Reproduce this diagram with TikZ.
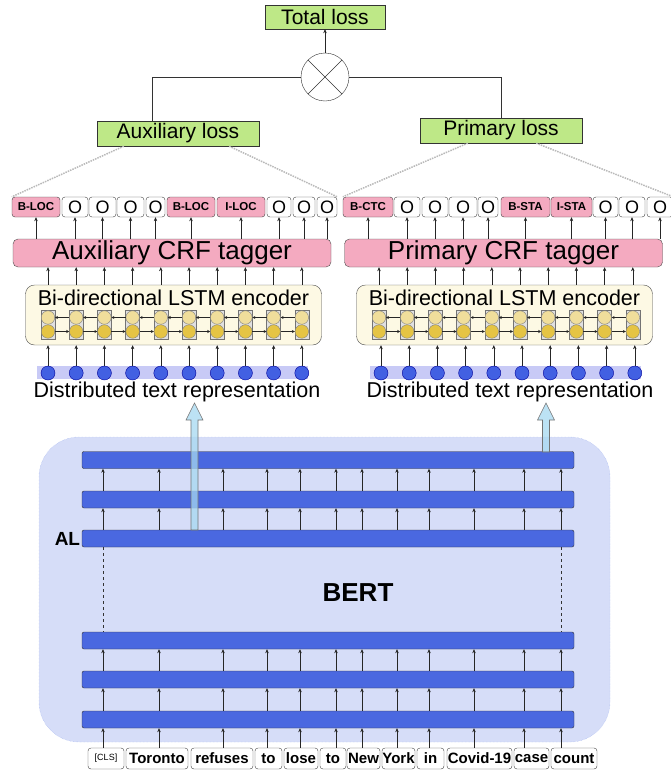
\documentclass[tikz,border=0pt]{standalone}
\usepackage{fontspec}
\setmainfont{Liberation Sans}
\usetikzlibrary{arrows.meta,positioning,calc}
\definecolor{losscol}{RGB}{190,232,135}
\definecolor{crfcol}{RGB}{244,170,192}
\definecolor{lstmcol}{RGB}{253,249,228}
\definecolor{celltop}{RGB}{240,222,155}
\definecolor{cellbot}{RGB}{229,196,68}
\definecolor{dotcol}{RGB}{66,96,226}
\definecolor{bandcol}{RGB}{200,202,246}
\definecolor{bertcol}{RGB}{214,221,248}
\definecolor{bertline}{RGB}{160,178,238}
\definecolor{barcol}{RGB}{74,104,224}
\definecolor{bigcol}{RGB}{166,216,240}
\newcommand{\fs}[1]{\fontsize{#1}{#1}\selectfont}
\newcommand{\ent}[1]{{\bfseries\fs{11.5}#1}}
\newcommand{\clsfont}{\mdseries\fs{9}}
\newcommand{\upblock}[3]{\filldraw[bigarrow] (#1-3.5,#2) -- (#1-3.5,#3+17) -- (#1-8.5,#3+17) -- (#1,#3) -- (#1+8.5,#3+17) -- (#1+3.5,#3+17) -- (#1+3.5,#2) -- cycle;}

\begin{document}
\begin{tikzpicture}[
    x=1pt, y=-1pt,
    >={Stealth[length=4pt,width=3.5pt]},
    ar/.style={->, black!85, line width=0.5pt},
    lossbox/.style={draw=black!80, fill=losscol, inner sep=0pt, minimum height=25pt, font=\fs{21}},
    tag/.style={draw=black!75, rounded corners=3pt, inner sep=0pt, minimum height=20pt, font=\fs{18}},
    crf/.style={draw=black!70, fill=crfcol, rounded corners=5pt, inner sep=0pt,
                minimum width=318pt, minimum height=28pt, font=\fs{26}},
    lstm/.style={draw=black!70, fill=lstmcol, rounded corners=9pt, minimum width=296pt, minimum height=60pt},
    cell/.style={draw=black!55, fill=black!12, inner sep=0pt, minimum width=14pt, minimum height=29pt},
    hid/.style={circle, draw=black!50, inner sep=0pt, minimum size=13.5pt},
    emb/.style={circle, draw=blue!60!black, fill=dotcol, inner sep=0pt, minimum size=14pt},
    band/.style={fill=bandcol, inner sep=0pt, minimum width=271pt, minimum height=13pt},
    layer/.style={draw=black!80, fill=barcol, rounded corners=2pt, inner sep=0pt,
                  minimum width=492pt, minimum height=17pt},
    tok/.style={draw=black!75, rounded corners=3pt, inner sep=0pt, minimum height=21pt, font=\bfseries\fs{15}},
    cone/.style={gray!55, line width=1.5pt, densely dotted},
    bigarrow/.style={draw=black!55, fill=bigcol, fill opacity=0.75, line width=0.6pt}
  ]
  \useasboundingbox (0,0) rectangle (670,771);

  \node[lossbox, minimum width=120pt, minimum height=24pt] (total) at (325,17) {Total loss};
  \node[circle, draw=black!80, fill=white, minimum size=48pt, inner sep=0pt] (comb) at (325,77) {};
  \draw[black!80] (comb.north west) -- (comb.south east) (comb.north east) -- (comb.south west);
  \node[lossbox, minimum width=162pt] (auxloss) at (178,133.5) {Auxiliary loss};
  \node[lossbox, minimum width=162pt] (primloss) at (501,130.5) {Primary loss};

  \draw[ar] (comb.north) -- (total.south);
  \draw[black!80] (comb.west) -| ([xshift=-26pt]auxloss.north);
  \draw[black!80] (comb.east) -| (primloss.north);

  \node[crf] (acrf) at (172,253) {Auxiliary CRF tagger};
  \node[crf] (pcrf) at (503.5,253) {Primary CRF tagger};

  \foreach \i/\c/\w/\f/\t in {1/36/48/crfcol/\ent{B-LOC}, 2/75/26/white/O, 3/102.5/27/white/O,
      4/130.5/27/white/O, 5/155.5/19/white/O, 6/191/48/crfcol/\ent{B-LOC}, 7/241/48/crfcol/\ent{I-LOC},
      8/279/24/white/O, 9/304/22/white/O, 10/327/20/white/O} {
    \node[tag, fill=\f, minimum width=\w pt] (at\i) at (\c,207) {\t};
    \draw[ar] (at\i.south |- acrf.north) -- (at\i.south);
  }
  \foreach \i/\c/\w/\f/\t in {1/368/50/crfcol/\ent{B-CTC}, 2/407/26/white/O, 3/435/26/white/O,
      4/463/28/white/O, 5/488/20/white/O, 6/525.5/49/crfcol/\ent{B-STA}, 7/571.5/41/crfcol/\ent{I-STA},
      8/605.5/25/white/O, 9/632/26/white/O, 10/660/26/white/O} {
    \node[tag, fill=\f, minimum width=\w pt] (pt\i) at (\c,207) {\t};
    \draw[ar] (pt\i.south |- pcrf.north) -- (pt\i.south);
  }

  \draw[cone] ([xshift=27pt]auxloss.south west) -- (at1.north west);
  \draw[cone] ([xshift=-30pt]auxloss.south east) -- (at10.north east);
  \draw[cone] ([xshift=48pt]primloss.south west) -- (pt1.north west);
  \draw[cone] ([xshift=-46pt]primloss.south east) -- (pt10.north east);

  \foreach \s/\o/\d in {a/0/0, p/331/2} {
    \node[lstm] (\s lstm) at (173.5+\o,315) {};
    \node[font=\fs{21.5}] (\s lstmtext) at ([yshift=-13pt]\s lstm.north) {Bi-directional LSTM encoder};
    \node[band] (\s band) at (172.5+\o+\d,372.5) {};
    \node[font=\fs{21.5}] (\s dist) at (177+\o+\d,392) {Distributed text representation};
    \foreach \i in {1,...,10} {
      \pgfmathsetmacro\cx{\o+48+28.2*(\i-1)}
      \node[cell] (\s c\i) at (\cx,324.5) {};
      \node[hid, fill=celltop] (\s u\i) at ([yshift=7pt]\s c\i.center) {};
      \node[hid, fill=cellbot] (\s l\i) at ([yshift=-7pt]\s c\i.center) {};
      \node[emb] (\s d\i) at (\cx+\d,373) {};
      \draw[ar] (\s c\i |- \s lstm.north) -- (\s c\i |- \s crf.south);
      \draw[ar] (\s d\i.north) -- (\s d\i.north |- \s lstm.south);
    }
    \foreach \i [evaluate=\i as \j using int(\i+1)] in {1,...,9} {
      \draw[ar, >={Stealth[length=3pt,width=3pt]}] (\s u\j) -- (\s u\i);
      \draw[ar, >={Stealth[length=3pt,width=3pt]}] (\s l\i) -- (\s l\j);
    }
  }

  \node[draw=bertline, densely dotted, fill=bertcol, rounded corners=40pt,
        minimum width=571pt, minimum height=305pt] (bert) at (324.5,589.5) {};
  \node[font=\bfseries\fs{26}] (berttext) at (358,593) {BERT};
  \foreach \i/\y in {1/460, 2/499.5, 3/538.5, 4/640.5, 5/679.5, 6/719.5}
    \node[layer] (b\i) at (328,\y) {};
  \node[font=\bfseries\fs{19}, anchor=east, inner sep=1.5pt] (al) at (b3.west) {AL};

  \foreach \i/\c/\w/\t in {1/106/36/{\clsfont[CLS]}, 2/157/62/Toronto, 3/222/62/refuses, 4/268.5/27/to,
      5/301/34/lose, 6/333/26/to, 7/363.5/33/New, 8/398.5/33/York, 9/430.5/27/in,
      10/479.5/65/Covid-19, 11/531.5/35/case, 12/574/46/count}
    \node[tok, minimum width=\w pt] (t\i) at (\c,758.5) {\t};

  \foreach \i/\x in {1/103, 2/159, 3/223, 4/267, 5/300, 6/336, 7/362, 8/397, 9/429, 10/474, 11/524, 12/561} {
    \coordinate (k\i) at (\x,745);
    \draw[ar] (k\i |- t\i.north) -- (k\i |- b6.south);
    \draw[ar] (k\i |- b6.north) -- (k\i |- b5.south);
    \draw[ar] (k\i |- b5.north) -- (k\i |- b4.south);
    \draw[ar] (k\i |- b3.north) -- (k\i |- b2.south);
    \draw[ar] (k\i |- b2.north) -- (k\i |- b1.south);
  }
  \draw[dashed, black!80] (k1 |- b3.south) -- (k1 |- b4.north);
  \draw[dashed, black!80] (k12 |- b3.south) -- (k12 |- b4.north);

  \upblock{194.5}{530}{403}
  \upblock{546}{452}{403}
\end{tikzpicture}
\end{document}
